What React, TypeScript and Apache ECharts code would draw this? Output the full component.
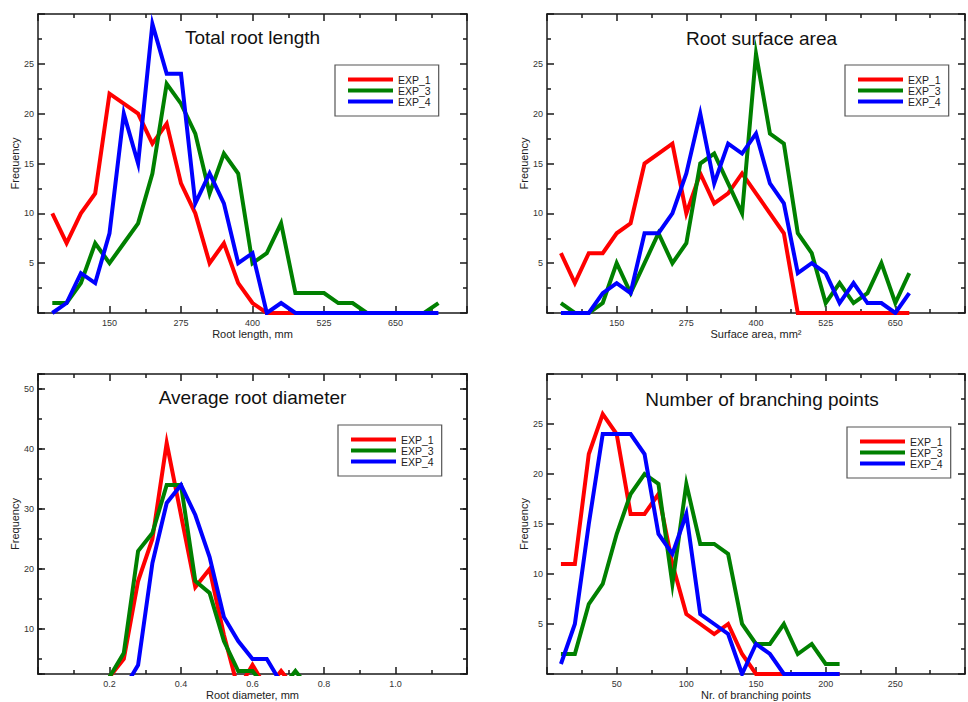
import React, { useEffect, useRef } from 'react';
import * as echarts from 'echarts';

// ---------- data ----------
const seriesNames = ['EXP_1', 'EXP_3', 'EXP_4'];
const seriesColors = ['#ff0000', '#008000', '#0000ff'];

// Total root length (mm)
const lengthBins = [50, 75, 100, 125, 150, 175, 200, 225, 250, 275, 300, 325, 350, 375, 400, 425, 450, 475, 500, 525, 550, 575, 600, 625, 650, 675, 700, 725];
const lengthExp1 = [10, 7, 10, 12, 22, 21, 20, 17, 19, 13, 10, 5, 7, 3, 1, 0, 0, 0];
const lengthExp3 = [1, 1, 3, 7, 5, 7, 9, 14, 23, 21, 18, 12, 16, 14, 5, 6, 9, 2, 2, 2, 1, 1, 0, 0, 0, 0, 0, 1];
const lengthExp4 = [0, 1, 4, 3, 8, 20, 15, 29, 24, 24, 11, 14, 11, 5, 6, 0, 1, 0, 0, 0, 0, 0, 0, 0, 0, 0, 0, 0];

// Root surface area (mm2)
const areaBins = [50, 75, 100, 125, 150, 175, 200, 225, 250, 275, 300, 325, 350, 375, 400, 425, 450, 475, 500, 525, 550, 575, 600, 625, 650, 675];
const areaExp1 = [6, 3, 6, 6, 8, 9, 15, 16, 17, 10, 14, 11, 12, 14, 12, 10, 8, 0, 0, 0, 0, 0, 0, 0, 0, 0];
const areaExp3 = [1, 0, 0, 1, 5, 2, 5, 8, 5, 7, 15, 16, 13, 10, 26, 18, 17, 8, 6, 1, 3, 1, 2, 5, 1, 4];
const areaExp4 = [0, 0, 0, 2, 3, 2, 8, 8, 10, 14, 20, 13, 17, 16, 18, 13, 11, 4, 5, 4, 1, 3, 1, 1, 0, 2];

// Average root diameter (mm)
const diamBins = [0.2, 0.24, 0.28, 0.32, 0.36, 0.4, 0.44, 0.48, 0.52, 0.56, 0.6, 0.64, 0.68, 0.72, 0.76];
const diamExp1 = [2, 5, 18, 25, 41, 29, 17, 20, 9, 0, 4, 0, 3, 0, 0];
const diamExp3 = [2, 6, 23, 26, 34, 34, 18, 16, 8, 3, 3, 0, 0, 3, 0];
const diamExp4 = [0, 0, 4, 21, 31, 34, 29, 22, 12, 8, 5, 5, 1, 0, 0];

// Number of branching points
const branchBins = [10, 20, 30, 40, 50, 60, 70, 80, 90, 100, 110, 120, 130, 140, 150, 160, 170, 180, 190, 200, 210];
const branchExp1 = [11, 11, 22, 26, 24, 16, 16, 18, 11, 6, 5, 4, 5, 2, 0, 0, 0, 0, 0, 0, 0];
const branchExp3 = [2, 2, 7, 9, 14, 18, 20, 19, 9, 19, 13, 13, 12, 5, 3, 3, 5, 2, 3, 1, 1];
const branchExp4 = [1, 5, 15, 24, 24, 24, 22, 14, 12, 16, 6, 5, 4, 0, 3, 2, 0, 0, 0, 0, 0];

const panelTitles = ['Total root length', 'Root surface area', 'Average root diameter', 'Number of branching points'];
const xAxisNames = ['Root length, mm', 'Surface area, mm\u00B2', 'Root diameter, mm', 'Nr. of branching points'];
const yAxisName = 'Frequency';

// ---------- styling / layout ----------
const FONT = '"Liberation Sans", Arial, Helvetica, sans-serif';
const AX = '#1a1a1a';
const grids = [
  { left: 38, top: 14, width: 429, height: 299 },
  { left: 547, top: 14, width: 429, height: 299 },
  { left: 38, top: 374, width: 429, height: 300 },
  { left: 547, top: 374, width: 430, height: 300 },
];
const titlePos = [
  [252.5, 37],
  [761.5, 38.7],
  [252.5, 397.5],
  [762, 399],
];
const legendPos = [
  [335, 65],
  [845, 65],
  [338, 425],
  [847, 427],
];

const lineAx = { show: true, onZero: false, lineStyle: { color: AX, width: 1.5 } };
const tickAx = { show: true, inside: true, length: 7, lineStyle: { color: AX, width: 1.5 } };
const minorAx = { show: true, splitNumber: 2, length: 4, lineStyle: { color: AX, width: 1.5 } };

function makeX(gridIndex: number, min: number, max: number, interval: number, name: string, fmt: (v: number) => string) {
  const common: any = {
    type: 'value', gridIndex, min, max, interval,
    axisLine: lineAx, axisTick: tickAx, minorTick: minorAx,
    splitLine: { show: false }, minorSplitLine: { show: false },
  };
  return [
    {
      ...common, position: 'bottom', name, nameLocation: 'middle', nameGap: 15,
      nameTextStyle: { fontSize: 11, color: '#222', fontFamily: FONT },
      axisLabel: { show: true, margin: 5, fontSize: 9, color: '#333', fontFamily: FONT, formatter: fmt },
    },
    { ...common, position: 'top', axisLabel: { show: false } },
  ];
}

function makeY(gridIndex: number, min: number, max: number, interval: number, fmt: (v: number) => string) {
  const common: any = {
    type: 'value', gridIndex, min, max, interval,
    axisLine: lineAx, axisTick: tickAx, minorTick: minorAx,
    splitLine: { show: false }, minorSplitLine: { show: false },
  };
  return [
    {
      ...common, position: 'left', name: yAxisName, nameLocation: 'middle', nameGap: 18,
      nameTextStyle: { fontSize: 11, color: '#222', fontFamily: FONT },
      axisLabel: { show: true, margin: 4, fontSize: 9, color: '#333', fontFamily: FONT, formatter: fmt },
    },
    { ...common, position: 'right', axisLabel: { show: false } },
  ];
}

// Diameter panel: y range 2.5..52.5, labelled ticks every 10, short ticks every 5
function makeDiamY(gridIndex: number) {
  const base: any = {
    type: 'value', gridIndex, min: 2.5, max: 52.5,
    axisLine: lineAx, splitLine: { show: false }, minorTick: { show: false },
  };
  const major = { ...base, minInterval: 10, maxInterval: 10, splitNumber: 5, axisTick: tickAx };
  const minor = { ...base, minInterval: 5, maxInterval: 5, splitNumber: 10, axisTick: { ...tickAx, length: 4 }, axisLabel: { show: false } };
  return [
    {
      ...major, position: 'left', name: yAxisName, nameLocation: 'middle', nameGap: 18,
      nameTextStyle: { fontSize: 11, color: '#222', fontFamily: FONT },
      axisLabel: {
        show: true, margin: 4, fontSize: 9, color: '#333', fontFamily: FONT,
        formatter: (v: number) => (Math.abs(v % 10) < 1e-6 && v >= 10 && v <= 50 ? String(v) : ''),
      },
    },
    { ...major, position: 'right', axisLabel: { show: false } },
    { ...minor, position: 'left' },
    { ...minor, position: 'right' },
  ];
}

function pairs(xs: number[], ys: number[]) {
  return ys.map((y, i) => [xs[i], y]);
}

export default function App() {
  const ref = useRef<HTMLDivElement>(null);

  useEffect(() => {
    if (!ref.current) return;
    const chart = echarts.init(ref.current, null, { renderer: 'svg' });

    const xAxis = [
      ...makeX(0, 25, 775, 125, xAxisNames[0], (v) => (v > 25 && v < 775 ? String(v) : '')),
      ...makeX(1, 25, 775, 125, xAxisNames[1], (v) => (v > 25 && v < 775 ? String(v) : '')),
      ...makeX(2, 0, 1.2, 0.2, xAxisNames[2], (v) => (v > 0.05 && v < 1.15 ? v.toFixed(1) : '')),
      ...makeX(3, 0, 300, 50, xAxisNames[3], (v) => (v > 0 && v < 300 ? String(v) : '')),
    ];
    const yAxis = [
      ...makeY(0, 0, 30, 5, (v) => (v > 0 && v < 30 ? String(v) : '')),
      ...makeY(1, 0, 30, 5, (v) => (v > 0 && v < 30 ? String(v) : '')),
      ...makeDiamY(2),
      ...makeY(3, 0, 30, 5, (v) => (v > 0 && v < 30 ? String(v) : '')),
    ];
    // y axis index of the data axis of each panel
    const yIdx = [0, 2, 4, 8];
    const xIdx = [0, 2, 4, 6];

    const panels = [
      { bins: lengthBins, vals: [lengthExp1, lengthExp3, lengthExp4] },
      { bins: areaBins, vals: [areaExp1, areaExp3, areaExp4] },
      { bins: diamBins, vals: [diamExp1, diamExp3, diamExp4] },
      { bins: branchBins, vals: [branchExp1, branchExp3, branchExp4] },
    ];

    const series: any[] = [];
    panels.forEach((p, pi) => {
      p.vals.forEach((vals, si) => {
        series.push({
          type: 'line',
          name: seriesNames[si],
          xAxisIndex: xIdx[pi],
          yAxisIndex: yIdx[pi],
          data: pairs(p.bins, vals),
          showSymbol: false,
          symbol: 'none',
          clip: true,
          color: seriesColors[si],
          lineStyle: { color: seriesColors[si], width: 4, join: 'miter', miterLimit: 20 },
          emphasis: { disabled: true },
          z: 2 + si,
        });
      });
    });

    const legend = legendPos.map(([l, t]) => ({
      left: l,
      top: t,
      orient: 'vertical',
      data: seriesNames.map((n) => ({ name: n, icon: 'rect' })),
      itemWidth: 45,
      itemHeight: 4,
      itemGap: 0,
      itemTextGap: 5,
      padding: [9, 8, 9, 13],
      borderColor: '#555',
      borderWidth: 1.2,
      backgroundColor: '#fff',
      selectedMode: false,
      textStyle: { fontSize: 10.5, lineHeight: 10, color: '#222', fontFamily: FONT },
    }));

    const graphic = panelTitles.map((t, i) => ({
      type: 'text',
      x: titlePos[i][0],
      y: titlePos[i][1],
      z: 10,
      style: {
        text: t,
        fontSize: 19,
        fontFamily: FONT,
        fill: '#111',
        align: 'center',
        verticalAlign: 'middle',
      },
    }));

    chart.setOption({
      animation: false,
      backgroundColor: '#fff',
      textStyle: { fontFamily: FONT },
      grid: grids.map((g) => ({ ...g, containLabel: false })),
      xAxis,
      yAxis,
      legend,
      series,
      graphic,
    });

    return () => chart.dispose();
  }, []);

  return (
    <div
      ref={ref}
      style={{ position: 'absolute', left: 0, top: 0, width: 968, height: 702, background: '#fff' }}
    />
  );
}
